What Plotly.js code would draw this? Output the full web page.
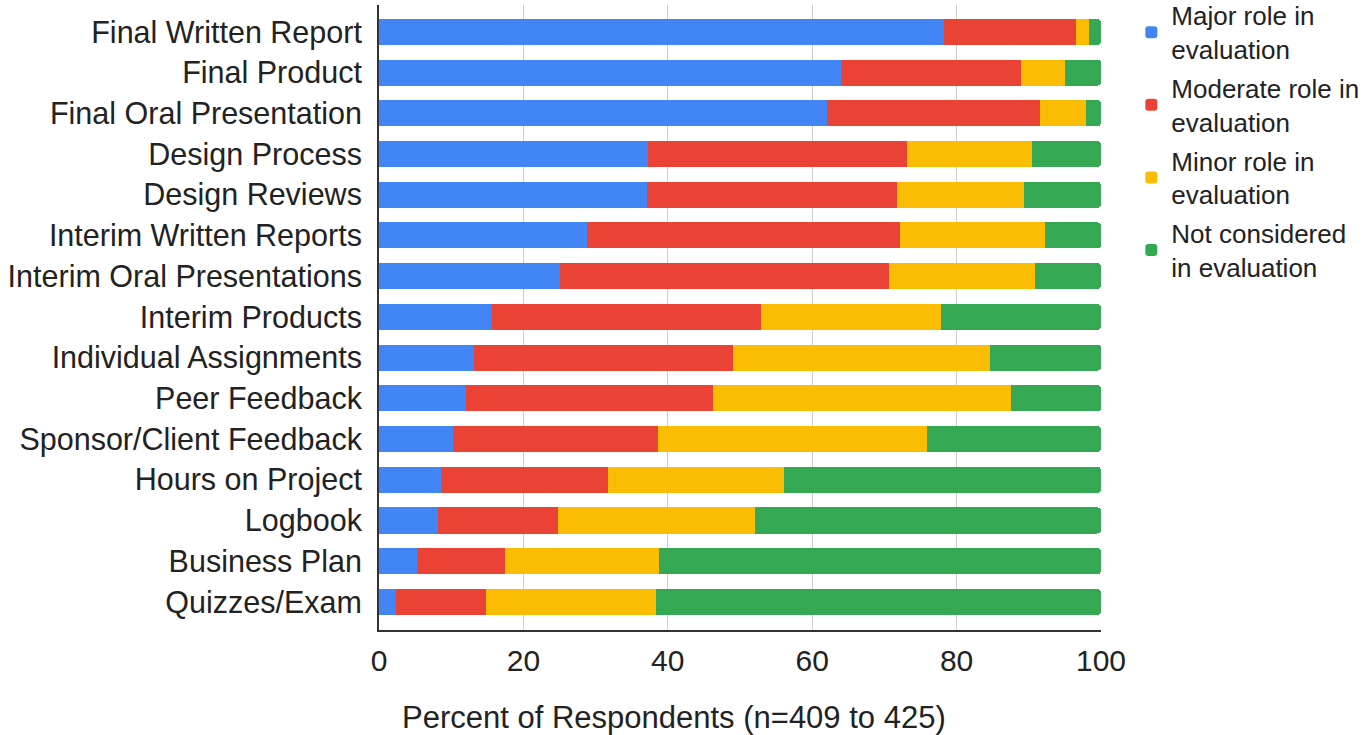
<!DOCTYPE html>
<html>
<head>
<meta charset="utf-8">
<script src="https://cdn.plot.ly/plotly-3.0.1.min.js"></script>
<style>html,body{margin:0;padding:0;background:#fff;}#chart{width:1367px;height:735px;}</style>
</head>
<body>
<div id="chart"></div>
<script>
const categories = ["Final Written Report","Final Product","Final Oral Presentation","Design Process","Design Reviews","Interim Written Reports","Interim Oral Presentations","Interim Products","Individual Assignments","Peer Feedback","Sponsor/Client Feedback","Hours on Project","Logbook","Business Plan","Quizzes/Exam"];
const majorRole    = [78.2, 64.0, 62.1, 37.3, 37.1, 28.8, 25.1, 15.6, 13.1, 12.1, 10.3, 8.6, 8.2, 5.2, 2.3];
const moderateRole = [18.4, 24.9, 29.5, 35.8, 34.6, 43.4, 45.6, 37.3, 35.9, 34.2, 28.3, 23.1, 16.6, 12.2, 12.5];
const minorRole    = [1.8, 6.1, 6.3, 17.4, 17.7, 20.1, 20.1, 24.9, 35.6, 41.2, 37.3, 24.4, 27.3, 21.4, 23.5];
const notConsidered= [1.6, 5.0, 2.1, 9.5, 10.6, 7.7, 9.2, 22.2, 15.4, 12.5, 24.1, 43.9, 47.9, 61.2, 61.7];
const seriesNames = ["Major role in<br>evaluation","Moderate role in<br>evaluation","Minor role in<br>evaluation","Not considered<br>in evaluation"];
const xTickValues = [0, 20, 40, 60, 80, 100];
const xTitle = "Percent of Respondents (n=409 to 425)";

const colors = ["#4285F4","#EA4335","#FBBC04","#34A853"];
const seriesValues = [majorRole, moderateRole, minorRole, notConsidered];
const FONT = "Liberation Sans, Arial, sans-serif";

const traces = seriesValues.map((vals, i) => ({
  type: "bar",
  orientation: "h",
  name: seriesNames[i],
  legendgroup: "g" + i,
  x: vals,
  y: categories,
  marker: {color: colors[i], line: {width: 0}},
  hoverinfo: "x+y+name"
}));

const layout = {
  width: 1367, height: 735,
  margin: {l: 379, r: 266, t: 5, b: 105, pad: 0, autoexpand: false},
  paper_bgcolor: "#ffffff", plot_bgcolor: "#ffffff",
  barmode: "stack",
  bargap: 0.36,
  barcornerradius: 4,
  font: {family: FONT, color: "#222222", size: 29},
  xaxis: {
    range: [0, 100],
    tickvals: xTickValues,
    ticktext: xTickValues.map(String),
    showgrid: true, gridcolor: "#cccccc", gridwidth: 1,
    zeroline: false,
    showline: true, linecolor: "#333333", linewidth: 2,
    ticks: "", ticklabelstandoff: 3,
    tickfont: {size: 30, family: FONT, color: "#222222"},
    automargin: false,
    fixedrange: true
  },
  yaxis: {
    type: "category",
    range: [14.69, -0.66],
    showgrid: false, zeroline: false,
    showline: true, linecolor: "#333333", linewidth: 2,
    ticks: "", ticklabelstandoff: 9,
    tickfont: {size: 30.5, family: FONT, color: "#222222"},
    automargin: false,
    fixedrange: true
  },
  annotations: [{
    xref: "paper", yref: "paper",
    x: (674 - 379) / 722, y: -0.14,
    xanchor: "center", yanchor: "middle",
    text: xTitle, showarrow: false,
    font: {size: 31, family: FONT, color: "#222222"}
  }],
  showlegend: true,
  legend: {
    x: 1.042, y: 1.021, xanchor: "left", yanchor: "top",
    font: {size: 26, family: FONT, color: "#222222"},
    tracegroupgap: 2,
    traceorder: "grouped",
    bgcolor: "rgba(0,0,0,0)",
    itemwidth: 30
  }
};

Plotly.newPlot("chart", traces, layout, {displayModeBar: false, staticPlot: true});
</script>
</body>
</html>
